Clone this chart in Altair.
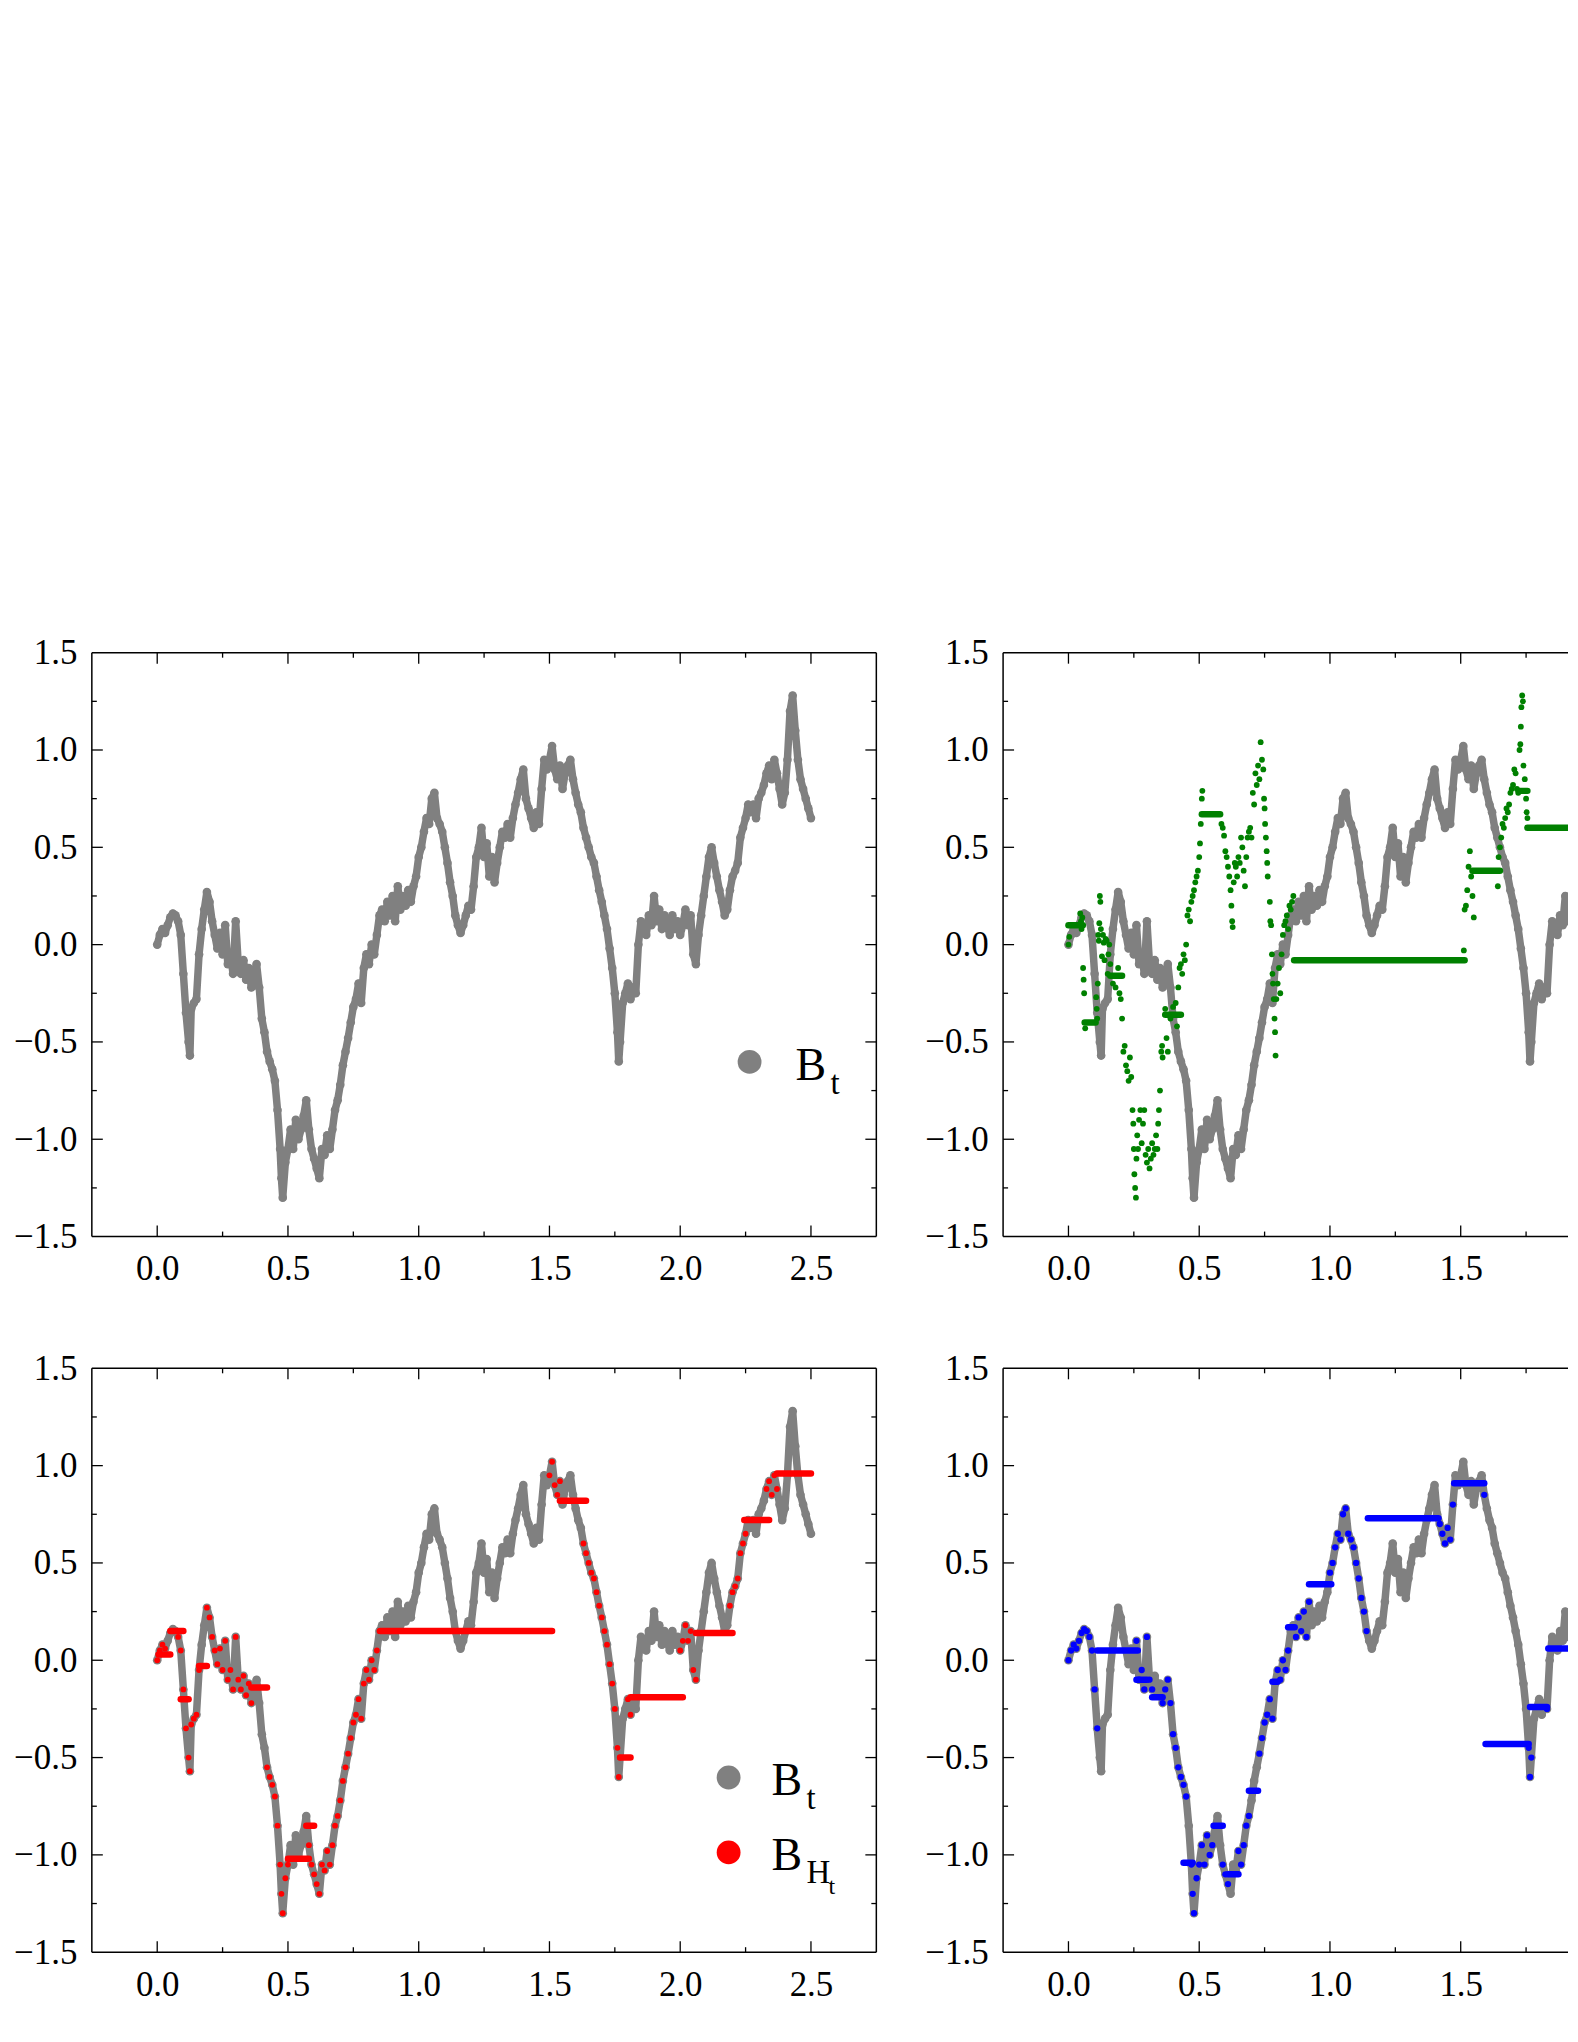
import altair as alt
import pandas as pd

# ---------------- data ----------------
# Brownian path B_t : (t, value)
GRAY = [
    (0.00, 0.00), (0.01, 0.05), (0.02, 0.08), (0.03, 0.06), (0.04, 0.10), (0.05, 0.14),
    (0.06, 0.16), (0.07, 0.15), (0.08, 0.12), (0.09, 0.05), (0.10, -0.15), (0.11, -0.35),
    (0.12, -0.50), (0.125, -0.57), (0.13, -0.33), (0.14, -0.30), (0.15, -0.28), (0.16, -0.05),
    (0.17, 0.08), (0.18, 0.18), (0.19, 0.27), (0.20, 0.22), (0.21, 0.12), (0.22, 0.05),
    (0.23, -0.02), (0.24, 0.06), (0.25, -0.05), (0.26, 0.10), (0.27, -0.10), (0.28, -0.05),
    (0.29, -0.15), (0.30, 0.12), (0.31, -0.10), (0.32, -0.15), (0.33, -0.08), (0.34, -0.18),
    (0.35, -0.12), (0.36, -0.22), (0.37, -0.15), (0.38, -0.10), (0.39, -0.22), (0.40, -0.38),
    (0.41, -0.45), (0.42, -0.55), (0.43, -0.60), (0.44, -0.64), (0.45, -0.70), (0.46, -0.85),
    (0.47, -1.05), (0.475, -1.20), (0.48, -1.30), (0.49, -1.12), (0.50, -1.05),
    (0.51, -0.95), (0.52, -1.05), (0.53, -0.90), (0.54, -1.00), (0.55, -0.95), (0.56, -0.88),
    (0.57, -0.80), (0.58, -0.95), (0.59, -1.05), (0.60, -1.10), (0.61, -1.15), (0.62, -1.20),
    (0.63, -1.05), (0.64, -1.08), (0.65, -0.98), (0.66, -1.05), (0.67, -0.95), (0.68, -0.85),
    (0.69, -0.80), (0.70, -0.72), (0.71, -0.62), (0.72, -0.55), (0.73, -0.48), (0.74, -0.40),
    (0.75, -0.32), (0.76, -0.28), (0.77, -0.20), (0.78, -0.30), (0.79, -0.12), (0.80, -0.05),
    (0.81, -0.10), (0.82, 0.00), (0.83, -0.05), (0.84, 0.05), (0.85, 0.15), (0.86, 0.18),
    (0.87, 0.12), (0.88, 0.22), (0.89, 0.15), (0.90, 0.25), (0.91, 0.12), (0.92, 0.30),
    (0.93, 0.18), (0.94, 0.25), (0.95, 0.20), (0.96, 0.28), (0.97, 0.22), (0.98, 0.30),
    (0.99, 0.35), (1.00, 0.45),
    (1.01, 0.50), (1.02, 0.58), (1.03, 0.65), (1.04, 0.62), (1.05, 0.75), (1.06, 0.78),
    (1.07, 0.65), (1.08, 0.62), (1.09, 0.58), (1.10, 0.50), (1.11, 0.42), (1.12, 0.32),
    (1.13, 0.25), (1.14, 0.15), (1.15, 0.10), (1.16, 0.06), (1.17, 0.10), (1.18, 0.15),
    (1.19, 0.20), (1.20, 0.18), (1.21, 0.30), (1.22, 0.45), (1.23, 0.50), (1.24, 0.60),
    (1.25, 0.45), (1.26, 0.52), (1.27, 0.35), (1.28, 0.45), (1.29, 0.32), (1.30, 0.42),
    (1.31, 0.50), (1.32, 0.58), (1.33, 0.55), (1.34, 0.62), (1.35, 0.55), (1.36, 0.65),
    (1.37, 0.72), (1.38, 0.78), (1.39, 0.85), (1.40, 0.90), (1.41, 0.75), (1.42, 0.70),
    (1.43, 0.65), (1.44, 0.60), (1.45, 0.68), (1.46, 0.62), (1.47, 0.80), (1.48, 0.95),
    (1.49, 0.90), (1.50, 0.95), (1.51, 1.02), (1.52, 0.90), (1.53, 0.85), (1.54, 0.92),
    (1.55, 0.80),
    (1.56, 0.88), (1.57, 0.92), (1.58, 0.95), (1.59, 0.85), (1.60, 0.78), (1.61, 0.72),
    (1.62, 0.68), (1.63, 0.60), (1.64, 0.55), (1.65, 0.50), (1.66, 0.45), (1.67, 0.42),
    (1.68, 0.35), (1.69, 0.28), (1.70, 0.22), (1.71, 0.15), (1.72, 0.08), (1.73, -0.02),
    (1.74, -0.12), (1.75, -0.25), (1.76, -0.45), (1.765, -0.60), (1.77, -0.50), (1.78, -0.30),
    (1.79, -0.25), (1.80, -0.20), (1.81, -0.28), (1.82, -0.22), (1.83, -0.25), (1.84, 0.00),
    (1.85, 0.12), (1.86, 0.08), (1.87, 0.05), (1.88, 0.15), (1.89, 0.10), (1.90, 0.25),
    (1.91, 0.12), (1.92, 0.18), (1.93, 0.08), (1.94, 0.15), (1.95, 0.10), (1.96, 0.05),
    (1.97, 0.15), (1.98, 0.08), (1.99, 0.12), (2.00, 0.05), (2.01, 0.10), (2.02, 0.18),
    (2.03, 0.10), (2.04, 0.15), (2.05, -0.05), (2.06, -0.10), (2.07, 0.05), (2.08, 0.15),
    (2.09, 0.25), (2.10, 0.35),
    (2.11, 0.45), (2.12, 0.50), (2.13, 0.42), (2.14, 0.35), (2.15, 0.28), (2.16, 0.22),
    (2.17, 0.15), (2.18, 0.18), (2.19, 0.28), (2.20, 0.35), (2.21, 0.38), (2.22, 0.42),
    (2.23, 0.55), (2.24, 0.60), (2.25, 0.65), (2.26, 0.72), (2.27, 0.68), (2.28, 0.72),
    (2.29, 0.65), (2.30, 0.75), (2.31, 0.78), (2.32, 0.82), (2.33, 0.88), (2.34, 0.92),
    (2.35, 0.85), (2.36, 0.95), (2.37, 0.88), (2.38, 0.80), (2.39, 0.72), (2.40, 0.78),
    (2.41, 0.95), (2.42, 1.20), (2.43, 1.28), (2.44, 1.10), (2.45, 0.95), (2.46, 0.85),
    (2.47, 0.80), (2.48, 0.75), (2.49, 0.70), (2.50, 0.65),
]

# green process : scattered points and flat stretches (t0, t1, value)
GREEN_POINTS = [
    (0.000, 0.00), (0.003, 0.04), (0.045, 0.16), (0.048, 0.12), (0.050, 0.08), (0.053, 0.14),
    (0.056, -0.12), (0.058, -0.18), (0.060, -0.25), (0.064, -0.43),
    (0.106, -0.27), (0.108, -0.33), (0.110, -0.38), (0.112, -0.20), (0.114, 0.05), (0.116, 0.02),
    (0.118, 0.11), (0.120, 0.25), (0.122, 0.22), (0.124, 0.08),
    (0.128, -0.06), (0.132, 0.05), (0.135, 0.01), (0.138, -0.08), (0.142, 0.03), (0.146, 0.02),
    (0.150, -0.15), (0.153, -0.05), (0.156, 0.00), (0.160, -0.10),
    (0.170, -0.20), (0.180, -0.22), (0.190, -0.12), (0.195, -0.25), (0.200, -0.28),
    (0.205, -0.38), (0.210, -0.55), (0.215, -0.52), (0.220, -0.62), (0.225, -0.65), (0.230, -0.70),
    (0.235, -0.58), (0.240, -0.68),
    (0.245, -0.85), (0.248, -0.92), (0.250, -1.05), (0.252, -1.18), (0.255, -1.25), (0.258, -1.30),
    (0.260, -1.10), (0.263, -0.98), (0.266, -1.05), (0.270, -0.90), (0.275, -0.85), (0.280, -1.02),
    (0.285, -0.92), (0.290, -0.85), (0.295, -1.08), (0.300, -1.12), (0.305, -1.05), (0.310, -1.15),
    (0.315, -1.10), (0.320, -1.02), (0.325, -1.08), (0.330, -1.05), (0.335, -0.98), (0.340, -1.05),
    (0.343, -0.92), (0.346, -0.85), (0.350, -0.75), (0.355, -0.55), (0.358, -0.52), (0.360, -0.58),
    (0.370, -0.33), (0.375, -0.48), (0.380, -0.55), (0.390, -0.38), (0.400, -0.32), (0.410, -0.30),
    (0.415, -0.42),
    (0.420, -0.22), (0.425, -0.12), (0.430, -0.10), (0.435, -0.15), (0.440, -0.05), (0.445, -0.08),
    (0.450, 0.00),
    (0.455, 0.15), (0.460, 0.18), (0.465, 0.12), (0.470, 0.22), (0.475, 0.25), (0.480, 0.28),
    (0.485, 0.32), (0.490, 0.35), (0.495, 0.38), (0.500, 0.45), (0.503, 0.52), (0.506, 0.62),
    (0.510, 0.75), (0.512, 0.79),
    (0.585, 0.62), (0.590, 0.60), (0.595, 0.56), (0.600, 0.48), (0.605, 0.45), (0.610, 0.40),
    (0.615, 0.35),
    (0.620, 0.28), (0.623, 0.20), (0.626, 0.12), (0.628, 0.09), (0.632, 0.32), (0.636, 0.42),
    (0.640, 0.40), (0.645, 0.35), (0.650, 0.45),
    (0.655, 0.42), (0.660, 0.55), (0.665, 0.50), (0.670, 0.38), (0.675, 0.30), (0.680, 0.45),
    (0.685, 0.55), (0.690, 0.58), (0.695, 0.60), (0.700, 0.55),
    (0.705, 0.78), (0.710, 0.72), (0.715, 0.88), (0.720, 0.82), (0.725, 0.92), (0.730, 0.85),
    (0.735, 1.04), (0.740, 0.95), (0.745, 0.90), (0.748, 0.75), (0.750, 0.70), (0.752, 0.62),
    (0.755, 0.55), (0.758, 0.48), (0.760, 0.42), (0.762, 0.35),
    (0.770, 0.22), (0.772, 0.12), (0.775, 0.10), (0.778, -0.05), (0.780, -0.15), (0.782, -0.20),
    (0.785, -0.28), (0.788, -0.38), (0.790, -0.45), (0.792, -0.57),
    (0.795, -0.28), (0.800, -0.20), (0.805, -0.12), (0.810, -0.25), (0.815, -0.05), (0.820, 0.05),
    (0.825, 0.10), (0.830, 0.12), (0.835, 0.15), (0.840, 0.08), (0.845, 0.20), (0.850, 0.18),
    (0.855, 0.22), (0.860, 0.25),
    (1.512, -0.03), (1.515, 0.18), (1.520, 0.20), (1.525, 0.28), (1.530, 0.40), (1.535, 0.48),
    (1.540, 0.35), (1.545, 0.25), (1.550, 0.14),
    (1.642, 0.30), (1.645, 0.45), (1.650, 0.50), (1.655, 0.55),
    (1.660, 0.62), (1.665, 0.60), (1.670, 0.65), (1.675, 0.70), (1.680, 0.68), (1.685, 0.72),
    (1.690, 0.78), (1.695, 0.80), (1.700, 0.82), (1.705, 0.90), (1.710, 0.88), (1.715, 0.80),
    (1.720, 0.78), (1.725, 1.00), (1.728, 1.03), (1.730, 1.12), (1.732, 1.22), (1.735, 1.28),
    (1.738, 1.25), (1.740, 0.92), (1.745, 0.85), (1.750, 0.75), (1.752, 0.68), (1.755, 0.65),
]
GREEN_FLAT = [
    (0.000, 0.055, 0.10), (0.062, 0.104, -0.40), (0.160, 0.205, -0.16), (0.370, 0.430, -0.36),
    (0.510, 0.580, 0.67), (0.863, 1.515, -0.08), (1.545, 1.650, 0.38), (1.722, 1.755, 0.79),
    (1.755, 2.500, 0.60),
]

# B_{H_t} (red): stretches where it follows B_t, and flat stretches
RED_FOLLOW = [
    (0.00, 0.03), (0.07, 0.16), (0.19, 0.36), (0.42, 0.50), (0.58, 0.85), (1.50, 1.54),
    (1.63, 1.77), (1.80, 1.81), (2.00, 2.06), (2.19, 2.25), (2.33, 2.37),
]
RED_FLAT = [
    (0.005, 0.05, 0.03), (0.05, 0.10, 0.15), (0.09, 0.12, -0.20), (0.16, 0.19, -0.03),
    (0.36, 0.42, -0.14), (0.50, 0.58, -1.02), (0.57, 0.60, -0.85), (0.853, 1.51, 0.15),
    (1.54, 1.64, 0.82), (1.77, 1.81, -0.50), (1.81, 2.01, -0.19), (2.06, 2.20, 0.14),
    (2.245, 2.34, 0.72), (2.37, 2.50, 0.96),
]

# blue process
BLUE_FOLLOW = [
    (0.00, 0.11), (0.26, 0.32), (0.36, 0.45), (0.47, 0.555), (0.59, 0.61), (0.65, 0.69),
    (0.725, 0.78), (0.80, 0.84), (0.865, 0.92), (1.00, 1.145), (1.415, 1.475), (1.59, 1.595),
    (1.76, 1.77), (1.83, 1.835),
]
BLUE_FLAT = [
    (0.11, 0.265, 0.05), (0.26, 0.30, -0.10), (0.32, 0.36, -0.19), (0.44, 0.475, -1.04),
    (0.555, 0.59, -0.85), (0.61, 0.65, -1.10), (0.69, 0.725, -0.67), (0.78, 0.80, -0.11),
    (0.84, 0.865, 0.17), (0.92, 1.005, 0.39), (1.145, 1.415, 0.73), (1.475, 1.59, 0.91),
    (1.595, 1.76, -0.43), (1.765, 1.83, -0.24), (1.835, 2.05, 0.06),
]

X_MAJOR = [0.0, 0.5, 1.0, 1.5, 2.0, 2.5]
X_MINOR = [0.25, 0.75, 1.25, 1.75, 2.25]
Y_LABELS = [-1.5, -1.0, -0.5, 0.0, 0.5, 1.0, 1.5]
Y_MAJOR = [-1.0, -0.5, 0.0, 0.5, 1.0]
Y_MINOR = [-1.25, -0.75, -0.25, 0.25, 0.75, 1.25]

# ---------------- styling ----------------
W, H = 786, 585          # full panel
WR = 566                 # right-column panels are cut by the page edge
PX_PER_UNIT = W / 3.0
X_LO, X_HI = -0.25, 2.75
X_HI_R = X_LO + WR / PX_PER_UNIT
FONT = "Liberation Serif"
LABEL_SIZE = 35
GRAY_C, GREEN_C, RED_C, BLUE_C = "#808080", "#008000", "#ff0000", "#0000ff"

yscale = alt.Scale(domain=[-1.5, 1.5], nice=False, zero=False)
yaxis = alt.Axis(values=Y_LABELS, format=".1f", title=None, grid=False, ticks=False,
                 domain=False, labelFont=FONT, labelFontSize=LABEL_SIZE, labelColor="black",
                 labelPadding=15, labelFlush=False, labelOverlap=False)


def make_panel(layers_fn, right_cut):
    xmax = X_HI_R if right_cut else X_HI
    width = WR if right_cut else W
    xscale = alt.Scale(domain=[X_LO, xmax], nice=False, zero=False)
    xaxis = alt.Axis(values=[v for v in X_MAJOR if v <= xmax], format=".1f", title=None,
                     grid=False, ticks=False, domain=False, labelFont=FONT,
                     labelFontSize=LABEL_SIZE, labelColor="black", labelPadding=15,
                     labelFlush=False, labelOverlap=False)

    def X(f="t"):
        return alt.X(f"{f}:Q", scale=xscale, axis=xaxis)

    def Y(f="v"):
        return alt.Y(f"{f}:Q", scale=yscale, axis=yaxis)

    one = pd.DataFrame({"a": [0]})
    frame = []
    # border
    frame.append(alt.Chart(one).mark_rule(color="black", strokeWidth=1.5).encode(
        x=alt.value(0), y=alt.value(0), y2=alt.value(H)))
    frame.append(alt.Chart(one).mark_rule(color="black", strokeWidth=1.5).encode(
        x=alt.value(0), x2=alt.value(width), y=alt.value(0)))
    frame.append(alt.Chart(one).mark_rule(color="black", strokeWidth=1.5).encode(
        x=alt.value(0), x2=alt.value(width), y=alt.value(H)))
    if not right_cut:
        frame.append(alt.Chart(one).mark_rule(color="black", strokeWidth=1.5).encode(
            x=alt.value(width), y=alt.value(0), y2=alt.value(H)))
    # inward ticks
    for vals, L in [(X_MAJOR, 11), (X_MINOR, 5)]:
        df = pd.DataFrame({"t": [v for v in vals if v <= xmax]})
        frame.append(alt.Chart(df).mark_rule(color="black", strokeWidth=1.3).encode(
            x=X(), y=alt.value(H), y2=alt.value(H - L)))
        frame.append(alt.Chart(df).mark_rule(color="black", strokeWidth=1.3).encode(
            x=X(), y=alt.value(0), y2=alt.value(L)))
    for vals, L in [(Y_MAJOR, 11), (Y_MINOR, 5)]:
        df = pd.DataFrame({"v": vals})
        frame.append(alt.Chart(df).mark_rule(color="black", strokeWidth=1.3).encode(
            y=Y(), x=alt.value(0), x2=alt.value(L)))
        if not right_cut:
            frame.append(alt.Chart(df).mark_rule(color="black", strokeWidth=1.3).encode(
                y=Y(), x=alt.value(width), x2=alt.value(width - L)))

    helpers = dict(X=X, Y=Y, one=one)
    return alt.layer(*layers_fn(helpers), *frame).properties(width=width, height=H)


gray_df = pd.DataFrame(GRAY, columns=["t", "v"])


def follow_df(intervals):
    mask = pd.Series(False, index=gray_df.index)
    for a, b in intervals:
        mask |= (gray_df["t"] >= a - 1e-9) & (gray_df["t"] <= b + 1e-9)
    return gray_df[mask]


def gray_layers(h):
    line = alt.Chart(gray_df).mark_line(color=GRAY_C, strokeWidth=7.5, strokeJoin="round",
                                        strokeCap="round", clip=True).encode(
        x=h["X"](), y=h["Y"](), order="t:Q")
    pts = alt.Chart(gray_df).mark_circle(color=GRAY_C, size=75, opacity=1, clip=True).encode(
        x=h["X"](), y=h["Y"]())
    return [line, pts]


def points(h, df, color, size):
    return alt.Chart(df).mark_circle(color=color, size=size, opacity=1, clip=True).encode(
        x=h["X"](), y=h["Y"]())


def flats(h, rows, color):
    df = pd.DataFrame(rows, columns=["t", "t2", "v"])
    return alt.Chart(df).mark_rule(color=color, strokeWidth=6.5, strokeCap="round",
                                   clip=True).encode(
        x=h["X"](), x2=alt.X2("t2:Q"), y=h["Y"]())


def leg_dot(h, x, y, color):
    return alt.Chart(h["one"]).mark_circle(color=color, size=570, opacity=1).encode(
        x=alt.value(x), y=alt.value(y))


def leg_text(h, x, y, text, size):
    return alt.Chart(h["one"]).mark_text(text=text, font=FONT, fontSize=size, align="left",
                                         baseline="alphabetic", color="black").encode(
        x=alt.value(x), y=alt.value(y))


p1 = make_panel(lambda h: gray_layers(h) + [
    leg_dot(h, 659, 410, GRAY_C), leg_text(h, 705, 428, "B", 46), leg_text(h, 740, 442, "t", 33),
], right_cut=False)

green_df = pd.DataFrame(GREEN_POINTS, columns=["t", "v"])
p2 = make_panel(lambda h: gray_layers(h) + [
    flats(h, GREEN_FLAT, GREEN_C), points(h, green_df, GREEN_C, 34),
], right_cut=True)

p3 = make_panel(lambda h: gray_layers(h) + [
    flats(h, RED_FLAT, RED_C), points(h, follow_df(RED_FOLLOW), RED_C, 34),
    leg_dot(h, 638, 410, GRAY_C), leg_text(h, 681, 428, "B", 46), leg_text(h, 716, 442, "t", 33),
    leg_dot(h, 638, 485, RED_C), leg_text(h, 681, 503, "B", 46), leg_text(h, 716, 516, "H", 33),
    leg_text(h, 738, 527, "t", 24),
], right_cut=False)

p4 = make_panel(lambda h: gray_layers(h) + [
    flats(h, BLUE_FLAT, BLUE_C), points(h, follow_df(BLUE_FOLLOW), BLUE_C, 40),
], right_cut=True)

chart = alt.vconcat(
    alt.hconcat(p1, p2, spacing=46),
    alt.hconcat(p3, p4, spacing=46),
    spacing=63,
).properties(
    padding={"left": 5, "top": 626, "right": 0, "bottom": 5}
).configure_view(stroke="transparent")

chart.save("out.html", embed_options={"renderer": "svg", "actions": False})
